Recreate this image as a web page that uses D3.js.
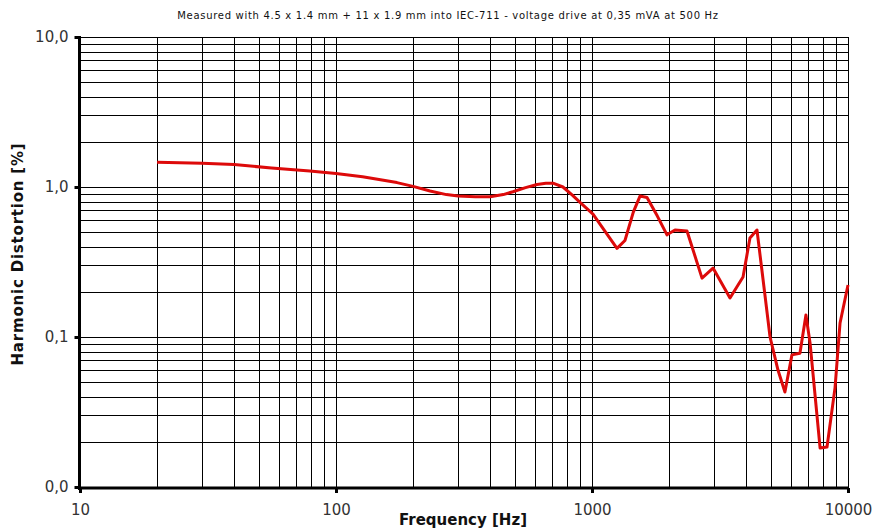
<!DOCTYPE html>
<meta charset="utf-8">
<style>
body { margin: 0; background: #fff; }
text { font-family: "DejaVu Sans", Verdana, sans-serif; }
</style>
<svg width="875" height="529"></svg>
<script src="https://d3js.org/d3.v7.min.js"></script>
<script>
var svg = d3.select("svg");

// chart data
var freqs = [20, 30, 40, 56, 79, 100, 127, 173, 200, 233, 270, 300, 350, 400, 450, 491, 550, 610, 660, 704, 770, 840, 898,
             1009, 1130, 1252, 1345, 1450, 1540, 1640, 1800, 1963, 2110, 2350, 2690, 2970, 3460, 3890, 4140, 4410,
             4660, 4960, 5330, 5670, 6040, 6490, 6850, 7110, 7780, 8280, 8900, 9310, 10000];
var thd   = [1.46, 1.44, 1.41, 1.34, 1.28, 1.23, 1.17, 1.07, 1.01, 0.94, 0.89, 0.87, 0.86, 0.86, 0.89, 0.93, 0.99, 1.04, 1.06, 1.06, 1.0, 0.88, 0.79,
             0.66, 0.50, 0.39, 0.44, 0.68, 0.87, 0.85, 0.64, 0.48, 0.517, 0.509, 0.247, 0.288, 0.182, 0.251, 0.457, 0.517,
             0.24, 0.1, 0.060, 0.043, 0.076, 0.078, 0.140, 0.091, 0.0182, 0.0185, 0.046, 0.124, 0.222];
var xTicks = [10, 100, 1000, 10000];
var xTickLabels = ["10", "100", "1000", "10000"];
var yTicks = [0.01, 0.1, 1, 10];
var yTickLabels = ["0,0", "0,1", "1,0", "10,0"];
var title = "Measured with 4.5 x 1.4 mm + 11 x 1.9 mm into IEC-711 - voltage drive at 0,35 mVA at 500 Hz";

// plot box (window.top is reserved, so use prefixed names)
var plotL = 80, plotR = 848, plotT = 37, plotB = 487;

var x = d3.scaleLog().domain([10, 10000]).range([plotL, plotR]);
var y = d3.scaleLog().domain([0.01, 10]).range([plotB, plotT]);

// minor + major gridlines (2..10 in every decade)
var gridX = [], gridY = [];
[10, 100, 1000].forEach(function(d) {
  for (var k = 2; k <= 10; k++) gridX.push(d * k);
});
[0.01, 0.1, 1].forEach(function(d) {
  for (var k = 2; k <= 10; k++) gridY.push(d * k);
});

var grid = svg.append("g").attr("class", "grid").attr("shape-rendering", "crispEdges");
grid.selectAll("line.v")
    .data(gridX)
    .enter().append("line")
    .attr("class", "v")
    .attr("x1", function(d) { return Math.round(x(d)) + 0.5; })
    .attr("x2", function(d) { return Math.round(x(d)) + 0.5; })
    .attr("y1", plotT).attr("y2", plotB)
    .attr("stroke", "#000").attr("stroke-width", 1);
grid.selectAll("line.h")
    .data(gridY)
    .enter().append("line")
    .attr("class", "h")
    .attr("y1", function(d) { return Math.round(y(d)) + 0.5; })
    .attr("y2", function(d) { return Math.round(y(d)) + 0.5; })
    .attr("x1", plotL).attr("x2", plotR + 1)
    .attr("stroke", "#000").attr("stroke-width", 1);

// the curve: straight segments between measured points
var line = d3.line()
    .x(function(d) { return x(d[0]); })
    .y(function(d) { return y(d[1]); })
    .curve(d3.curveLinear);

svg.append("path")
    .datum(d3.zip(freqs, thd))
    .attr("d", line)
    .attr("fill", "none")
    .attr("stroke", "#dd0a0a")
    .attr("stroke-width", 3)
    .attr("stroke-linejoin", "round");

// axes
var xAxis = d3.axisBottom(x).tickValues(xTicks)
    .tickFormat(function(d, i) { return xTickLabels[i]; })
    .tickSize(5).tickPadding(11);
var yAxis = d3.axisLeft(y).tickValues(yTicks)
    .tickFormat(function(d, i) { return yTickLabels[i]; })
    .tickSize(5).tickPadding(6);

var gx = svg.append("g").attr("transform", "translate(0," + (plotB + 1) + ")").call(xAxis);
var gy = svg.append("g").attr("transform", "translate(" + (plotL - 0.5) + ",0)").call(yAxis);

[gx, gy].forEach(function(g) {
  g.select(".domain").remove();
  g.selectAll(".tick line").attr("stroke", "#000").attr("stroke-width", 3);
  g.selectAll(".tick text")
    .attr("font-family", "DejaVu Sans, sans-serif")
    .attr("font-size", 15)
    .attr("fill", "#333");
});

// thick axis lines
svg.append("line")
    .attr("x1", plotL - 0.5).attr("x2", plotL - 0.5)
    .attr("y1", plotT - 1).attr("y2", plotB + 3)
    .attr("stroke", "#000").attr("stroke-width", 3);
svg.append("line")
    .attr("x1", plotL - 2).attr("x2", plotR + 1)
    .attr("y1", plotB + 1).attr("y2", plotB + 1)
    .attr("stroke", "#000").attr("stroke-width", 3);

// texts
svg.append("text")
    .attr("x", 448).attr("y", 19)
    .attr("text-anchor", "middle")
    .attr("font-size", 10)
    .attr("letter-spacing", "0.7px")
    .attr("fill", "#111")
    .text(title);

svg.append("text")
    .attr("x", 463).attr("y", 525)
    .attr("text-anchor", "middle")
    .attr("font-size", 15)
    .attr("font-weight", "bold")
    .attr("fill", "#111")
    .text("Frequency [Hz]");

svg.append("text")
    .attr("transform", "translate(23,254) rotate(-90)")
    .attr("text-anchor", "middle")
    .attr("font-size", 15)
    .attr("font-weight", "bold")
    .attr("letter-spacing", "0.8px")
    .attr("fill", "#111")
    .text("Harmonic Distortion [%]");
</script>
